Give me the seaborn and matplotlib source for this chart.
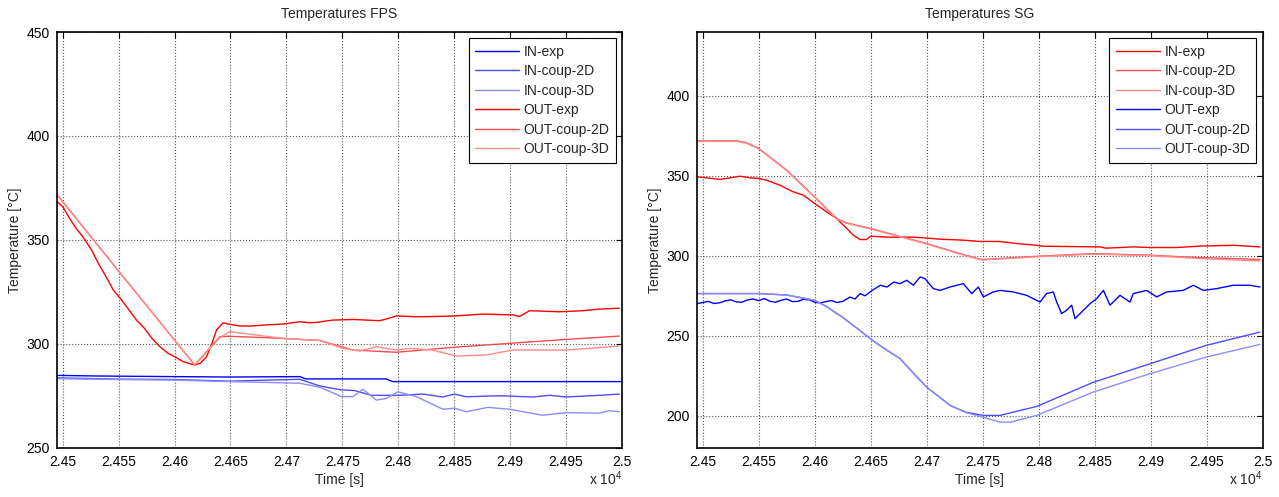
import numpy as np
import pandas as pd
import seaborn as sns
import matplotlib
matplotlib.use("Agg")
import matplotlib.pyplot as plt

# ---- datos (t en s, T en degC) ----
# Panel FPS
fps_in_exp_t = [24494.6, 24530, 24600, 24650, 24712, 24717, 24789, 24795, 25000]
fps_in_exp_T = [284.8, 284.5, 284.2, 284.0, 284.2, 283.1, 283.1, 281.8, 281.8]

fps_in_2d_t = [24494.6, 24550, 24600, 24650, 24680, 24712, 24729.8, 24749.1, 24761, 24775.9, 24801.2,
               24822, 24839.9, 24850.3, 24860.7, 24890.5, 24920.2, 24935.1, 24950, 24979.8, 24997.6]
fps_in_2d_T = [283.6, 283.0, 282.8, 282.0, 282.5, 282.9, 279.7, 277.8, 277.5, 275.2, 275.2,
               275.8, 274.4, 275.8, 274.5, 275.0, 274.4, 275.2, 274.4, 275.2, 275.8]

fps_in_3d_t = [24494.6, 24550, 24600, 24650, 24690, 24712, 24729.8, 24749.1, 24759.5, 24768.5, 24780.4,
               24789.3, 24799.7, 24816.1, 24839.9, 24850.3, 24860.7, 24880.1, 24899.4, 24929.2,
               24950, 24979.8, 24988.7, 24997.6]
fps_in_3d_T = [283.2, 282.8, 282.5, 281.8, 281.3, 281.0, 279.1, 274.6, 274.6, 278.1, 272.9,
               273.7, 276.9, 274.6, 268.5, 269.0, 267.3, 269.4, 268.5, 265.6,
               266.9, 266.6, 267.8, 267.3]

fps_out_exp_t = [24494.6, 24500, 24506, 24512, 24518, 24525.9, 24532, 24538, 24545.2, 24552, 24559,
                 24566, 24573, 24580, 24586.9, 24594, 24601, 24607.7, 24613, 24618, 24623, 24628.6,
                 24633, 24637.5, 24643.4, 24650, 24658, 24667.2, 24680, 24697, 24711.9, 24720.8,
                 24726.8, 24741.6, 24759.5, 24783.3, 24790, 24798.2, 24815, 24830.9, 24851.8,
                 24875.6, 24902.4, 24908.3, 24917.3, 24944, 24964.9, 24979.8, 24997.6]
fps_out_exp_T = [368.5, 366.0, 360.5, 355.5, 351.5, 345.1, 338.5, 333.0, 325.9, 321.5, 316.5,
                 311.4, 307.5, 302.5, 298.6, 295.5, 293.5, 291.4, 290.5, 289.8, 290.6, 293.8,
                 299.5, 306.6, 310.1, 309.3, 308.6, 308.5, 309.0, 309.5, 310.6, 310.1,
                 310.3, 311.4, 311.7, 311.1, 312.0, 313.4, 313.0, 313.1, 313.4,
                 314.3, 313.9, 313.1, 315.9, 315.4, 315.9, 316.7, 317.1]

fps_out_2d_t = [24494.6, 24534.8, 24618, 24640.4, 24649.4, 24697, 24711.9, 24729.8, 24759.5,
                24798.2, 24848.8, 24899.4, 24950, 24997.6]
fps_out_2d_T = [372.0, 345.1, 289.8, 303.4, 303.6, 302.6, 302.1, 301.6, 297.0,
                295.9, 298.3, 300.2, 302.1, 303.7]

fps_out_3d_t = [24494.6, 24534.8, 24618, 24640.4, 24649.4, 24697, 24711.9, 24729.8, 24750.6,
                24765.5, 24780.4, 24798.2, 24810.1, 24830, 24851.8, 24878.6, 24902.4, 24950, 24997.6]
fps_out_3d_T = [372.0, 345.1, 289.8, 303.0, 305.8, 302.6, 302.1, 301.6, 297.8,
                296.5, 298.6, 297.0, 297.8, 297.0, 294.1, 294.6, 297.0, 297.0, 298.9]

# Panel SG
sg_in_exp_t = [24494.0, 24503.5, 24515.4, 24524.4, 24533.3, 24542.2, 24550, 24557.1, 24569, 24580.9,
               24589.9, 24600, 24610.7, 24619.6, 24628.6, 24634.5, 24640.5, 24646.4, 24650, 24664.3,
               24688.1, 24700, 24711.9, 24732.7, 24747.6, 24765.4, 24780.3, 24798.2, 24804,
               24854.8, 24860, 24884.6, 24899.4, 24923.2, 24944, 24973.8, 24997.6]
sg_in_exp_T = [349.4, 348.8, 347.8, 348.8, 349.8, 348.8, 348.4, 347.3, 344.2, 340.0,
               337.9, 332.7, 327.5, 323.3, 317.1, 312.9, 310.2, 310.2, 312.3, 311.7,
               311.7, 311.1, 310.4, 309.8, 309.0, 309.0, 307.7, 306.6, 306.0,
               305.6, 304.8, 305.6, 305.2, 305.2, 306.1, 306.6, 305.6]

sg_in_2d_t = [24494.0, 24530.4, 24539.3, 24550, 24575, 24600, 24619.6, 24628.6, 24650, 24700,
              24729.8, 24747.6, 24750.5, 24798.2, 24848.8, 24899.4, 24930, 24997.6]
sg_in_2d_T = [371.9, 371.9, 370.7, 367.2, 353.6, 336.9, 323.3, 320.6, 317.1, 307.7,
              301.4, 297.9, 297.7, 299.7, 301.4, 300.4, 299.3, 297.7]

sg_in_3d_t = [24494.0, 24530.4, 24539.3, 24550, 24575, 24600, 24619.6, 24628.6, 24650, 24700,
              24729.8, 24747.6, 24750.5, 24798.2, 24848.8, 24899.4, 24944, 24997.6]
sg_in_3d_T = [371.6, 371.6, 370.4, 366.9, 353.3, 336.6, 323.0, 320.3, 316.8, 307.4,
              301.1, 297.6, 297.4, 299.4, 301.1, 300.1, 298.3, 296.8]

sg_out_exp_t = [24494.0, 24500, 24505, 24510, 24515, 24520, 24525, 24530, 24535, 24540, 24545,
                24550, 24555, 24560, 24565, 24570, 24575, 24580, 24585, 24590, 24595, 24600,
                24605, 24610, 24615, 24620, 24625, 24631.5, 24636, 24640.5, 24645, 24651.3,
                24658.7, 24664.6, 24670.6, 24676.2, 24682.2, 24688.1, 24694.1, 24698.5, 24706,
                24712, 24720.8, 24732.7, 24740.2, 24746.1, 24750.6, 24759.5, 24765.5, 24777.4,
                24789.3, 24795.2, 24801.2, 24807.1, 24813.1, 24816.1, 24820.5, 24825, 24829.5,
                24832.4, 24838.4, 24845.9, 24851.8, 24857.8, 24863.7, 24872.6, 24881.6, 24884.5,
                24896.4, 24905.4, 24914.3, 24929.2, 24938.1, 24947, 24958.9, 24973.8, 24988.7,
                24997.6]
sg_out_exp_T = [270.0, 270.8, 271.5, 270.2, 270.6, 271.8, 272.5, 271.2, 271.0, 272.4, 273.0,
                272.0, 273.3, 271.6, 271.0, 272.2, 273.0, 271.4, 271.5, 272.8, 272.5, 271.0,
                270.5, 271.4, 272.0, 270.8, 271.5, 274.2, 273.0, 276.4, 275.0, 278.4,
                281.6, 280.5, 283.6, 282.6, 284.7, 281.6, 286.8, 285.7, 279.5,
                278.4, 280.5, 282.6, 276.4, 280.5, 274.3, 277.4, 278.4, 277.4,
                275.3, 273.2, 271.1, 276.4, 277.4, 271.1, 263.9, 266.0, 269.1,
                260.7, 264.9, 270.1, 273.2, 278.4, 269.1, 275.3, 271.1, 276.4,
                278.4, 274.3, 277.4, 278.4, 281.6, 278.4, 279.5, 281.6, 281.6,
                280.5]

sg_out_2d_t = [24494.0, 24550, 24575, 24600, 24610, 24625, 24640, 24650, 24660, 24676.2, 24690,
               24700, 24721, 24735, 24750.6, 24765.5, 24798.2, 24848.8, 24899.4, 24949.7, 24997.6]
sg_out_2d_T = [276.4, 276.4, 275.5, 272.2, 268.5, 261.5, 253.5, 248.0, 243.0, 235.7, 225.2,
               217.9, 206.4, 202.2, 200.2, 200.2, 205.8, 220.9, 232.5, 244.0, 252.3]

sg_out_3d_t = [24494.0, 24550, 24575, 24600, 24610, 24625, 24640, 24650, 24660, 24676.2, 24690,
               24700, 24721, 24735, 24750.6, 24765.5, 24775, 24798.2, 24848.8, 24899.4, 24949.7,
               24997.6]
sg_out_3d_T = [276.4, 276.4, 275.5, 272.2, 268.5, 261.5, 253.5, 248.0, 243.0, 235.7, 225.2,
               217.9, 206.4, 202.0, 199.0, 196.0, 196.0, 200.2, 214.8, 226.3, 236.7, 244.6]

xtick_vals = [24500, 24550, 24600, 24650, 24700, 24750, 24800, 24850, 24900, 24950, 25000]

#%%
sns.set_style("white")
plt.rcParams['font.family'] = ['Liberation Sans', 'DejaVu Sans']
plt.rcParams['mathtext.default'] = 'regular'
plt.rcParams['font.size'] = 10

azul = ['#0000ff', '#4d4dff', '#8c8cff']
rojo = ['#ff0000', '#ff4d4d', '#ff8c8c']

fig = plt.figure(figsize=(12.79, 4.97), dpi=100)
ax1 = fig.add_axes([0.0443, 0.0992, 0.4420, 0.8364])
ax2 = fig.add_axes([0.5447, 0.0992, 0.4425, 0.8364])

series_fps = [
    (fps_in_exp_t, fps_in_exp_T, 'IN-exp', azul[0]),
    (fps_in_2d_t, fps_in_2d_T, 'IN-coup-2D', azul[1]),
    (fps_in_3d_t, fps_in_3d_T, 'IN-coup-3D', azul[2]),
    (fps_out_exp_t, fps_out_exp_T, 'OUT-exp', rojo[0]),
    (fps_out_2d_t, fps_out_2d_T, 'OUT-coup-2D', rojo[1]),
    (fps_out_3d_t, fps_out_3d_T, 'OUT-coup-3D', rojo[2]),
]
series_sg = [
    (sg_in_exp_t, sg_in_exp_T, 'IN-exp', rojo[0]),
    (sg_in_2d_t, sg_in_2d_T, 'IN-coup-2D', rojo[1]),
    (sg_in_3d_t, sg_in_3d_T, 'IN-coup-3D', rojo[2]),
    (sg_out_exp_t, sg_out_exp_T, 'OUT-exp', azul[0]),
    (sg_out_2d_t, sg_out_2d_T, 'OUT-coup-2D', azul[1]),
    (sg_out_3d_t, sg_out_3d_T, 'OUT-coup-3D', azul[2]),
]


def dibuja(ax, series, titulo, ylim, yticks):
    for t, T, nombre, color in series:
        df = pd.DataFrame({'t': t, 'T': T})
        sns.lineplot(data=df, x='t', y='T', ax=ax, color=color, linewidth=1.0,
                     label=nombre, estimator=None, sort=False)
    ax.set_xlim(24494.6, 25000)
    ax.set_ylim(*ylim)
    ax.set_xticks(xtick_vals)
    ax.set_xticklabels([f'{v / 1e4:g}' for v in xtick_vals])
    ax.set_yticks(yticks)
    ax.grid(True, linestyle=':', color='0.35', linewidth=0.8)
    ax.tick_params(direction='in', top=True, right=True, length=4, width=0.8,
                   labelsize=10, pad=5, colors='black')
    for s in ax.spines.values():
        s.set_color('black')
        s.set_linewidth(1.2)
    ax.set_title(titulo, fontsize=10, pad=10)
    ax.set_xlabel('Time [s]', fontsize=10, labelpad=3)
    ax.set_ylabel('Temperature [°C]', fontsize=10, labelpad=3)
    ax.text(1.0, -0.075, 'x 10$^{4}$', transform=ax.transAxes, ha='right', va='center', fontsize=10)
    leg = ax.legend(loc='upper right', fontsize=10, frameon=True, fancybox=False,
                    framealpha=1, edgecolor='black', handlelength=3.2, handletextpad=0.3,
                    labelspacing=0.4, borderpad=0.45, borderaxespad=0.45)
    leg.get_frame().set_linewidth(0.8)


dibuja(ax1, series_fps, 'Temperatures FPS', (250, 450), [250, 300, 350, 400, 450])
dibuja(ax2, series_sg, 'Temperatures SG', (180, 440), [200, 250, 300, 350, 400])

fig.savefig('out.png', dpi=100)
